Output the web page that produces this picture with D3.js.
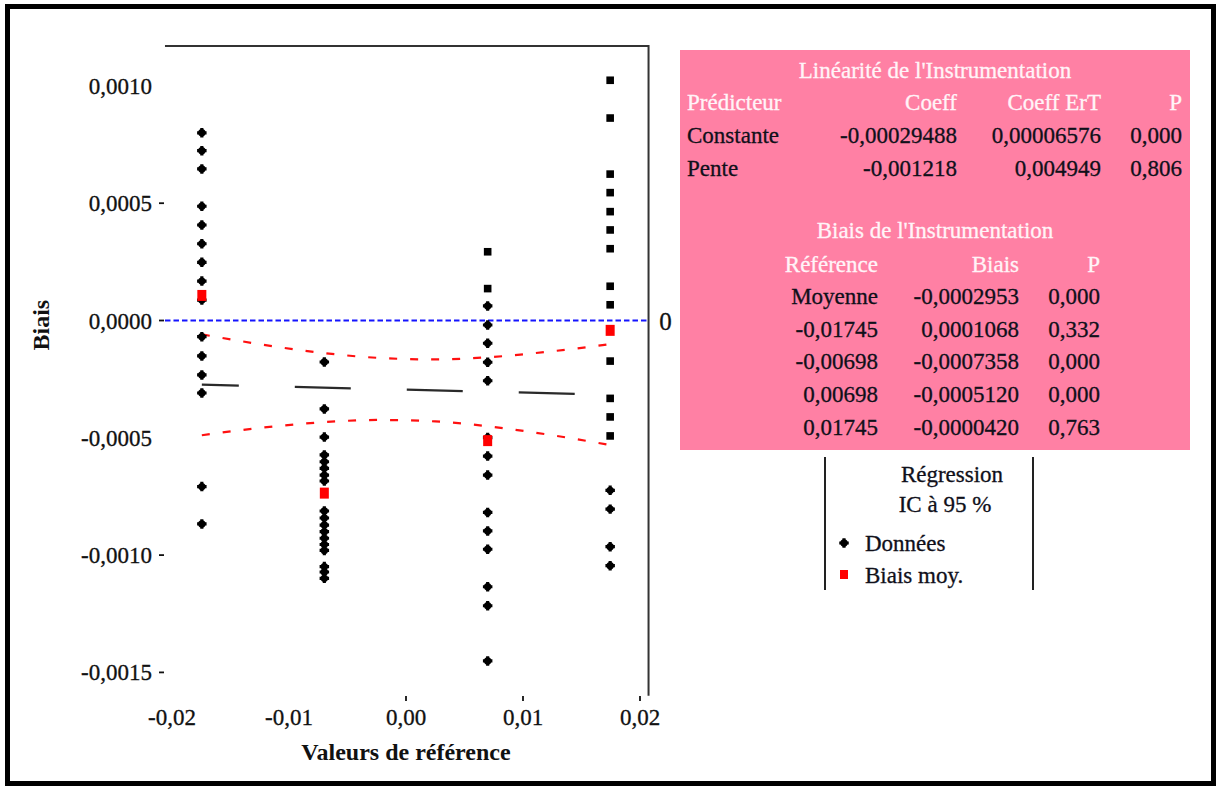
<!DOCTYPE html>
<html>
<head>
<meta charset="utf-8">
<script src="https://cdn.jsdelivr.net/npm/d3@7"></script>
<style>
  html, body { margin: 0; padding: 0; background: #ffffff; }
  svg { display: block; }
  text { font-family: "Liberation Serif", "Times New Roman", serif; }
</style>
</head>
<body>
<svg id="chart" width="1220" height="787"></svg>
<script>
// ---------------- DATA ----------------
const refValues = [-0.01745, -0.00698, 0.00698, 0.01745];

// individual biases (diamond markers)
const biasRef1 = [0.000800, 0.000724, 0.000646, 0.000487, 0.000407, 0.000327, 0.000248, 0.000168, 0.000087,
                  -0.000069, -0.000151, -0.000232, -0.000309, -0.000708, -0.000867];
const biasRef2 = [-0.000177, -0.000377, -0.000497, -0.000573, -0.000602, -0.000630, -0.000659, -0.000684,
                  -0.000812, -0.000842, -0.000872, -0.000900, -0.000928, -0.000955, -0.000980,
                  -0.001049, -0.001072, -0.001099];
const biasRef3 = [0.000062, -0.000019, -0.000097, -0.000178, -0.000257, -0.000499, -0.000578, -0.000659,
                  -0.000818, -0.000897, -0.000975, -0.001135, -0.001216, -0.001451];
const biasRef4 = [-0.000724, -0.000804, -0.000964, -0.001045];
// individual biases drawn with square markers
const biasRef3Sq = [0.000293, 0.000136];
const biasRef4Sq = [0.001024, 0.000863, 0.000624, 0.000545, 0.000464, 0.000386, 0.000306, 0.000146, 0.000067,
                    -0.000173, -0.000332, -0.000411, -0.000492];

const meanBias = [0.0001068, -0.0007358, -0.0005120, -0.0000420];

// regression (from table)
const regConst = -0.00029488;
const regSlope = -0.001218;

// 95% CI band
const ciX     = [-0.01745, -0.0125, -0.0075, -0.0025, 0.0025, 0.0075, 0.0125, 0.01745];
const ciUpper = [-0.000059, -0.000101, -0.000136, -0.000159, -0.000166, -0.000155, -0.000131, -0.000101];
const ciLower = [-0.000489, -0.000458, -0.000435, -0.000424, -0.000430, -0.000454, -0.000489, -0.000531];

const xTickValues = [-0.02, -0.01, 0, 0.01, 0.02];
const xTickLabels = ["-0,02", "-0,01", "0,00", "0,01", "0,02"];
const xTickMarked = [false, false, true, true, true];
const yTickValues = [0.001, 0.0005, 0, -0.0005, -0.001, -0.0015];
const yTickLabels = ["0,0010", "0,0005", "0,0000", "-0,0005", "-0,0010", "-0,0015"];
const yTickMarked = [false, true, true, false, true, true];

const xTitle = "Valeurs de référence";
const yTitle = "Biais";

const linTitle = "Linéarité de l'Instrumentation";
const linHeaders = ["Prédicteur", "Coeff", "Coeff ErT", "P"];
const linRows = [
  ["Constante", "-0,00029488", "0,00006576", "0,000"],
  ["Pente", "-0,001218", "0,004949", "0,806"]
];
const biasTitle = "Biais de l'Instrumentation";
const biasHeaders = ["Référence", "Biais", "P"];
const biasRows = [
  ["Moyenne", "-0,0002953", "0,000"],
  ["-0,01745", "0,0001068", "0,332"],
  ["-0,00698", "-0,0007358", "0,000"],
  ["0,00698", "-0,0005120", "0,000"],
  ["0,01745", "-0,0000420", "0,763"]
];
const legendTitles = ["Régression", "IC à 95 %"];
const legendItems = ["Données", "Biais moy."];

// ---------------- CHART ----------------
const svg = d3.select("#chart");
const FS = 23;

svg.append("rect").attr("x", 0).attr("y", 0).attr("width", 1220).attr("height", 787).attr("fill", "#fff");

const x = d3.scaleLinear().domain([-0.02, 0.02]).range([172, 640]);
const y = d3.scaleLinear().domain([-0.0015, 0.001]).range([672.4, 85.9]);

const xLeft = x(-0.0206), xRight = x(0.02073);
const yTop = y(0.00117), yBottom = y(-0.0016);

// frame (top and right sides only)
svg.append("path")
  .attr("d", `M${xLeft},${yTop}H${xRight}V${yBottom}`)
  .attr("fill", "none").attr("stroke", "#333").attr("stroke-width", 2);

// y ticks
yTickValues.forEach((v, i) => {
  svg.append("text").attr("x", 152).attr("y", y(v) + 8)
    .attr("text-anchor", "end").attr("font-size", FS).attr("fill", "#111")
    .attr("stroke", "#111").attr("stroke-width", 0.3)
    .text(yTickLabels[i]);
  if (yTickMarked[i]) {
    svg.append("line").attr("x1", 159).attr("x2", 164).attr("y1", y(v)).attr("y2", y(v))
      .attr("stroke", "#111").attr("stroke-width", 1.8);
  }
});

// x ticks
xTickValues.forEach((v, i) => {
  svg.append("text").attr("x", x(v)).attr("y", 725)
    .attr("text-anchor", "middle").attr("font-size", FS).attr("fill", "#111")
    .attr("stroke", "#111").attr("stroke-width", 0.3)
    .text(xTickLabels[i]);
  if (xTickMarked[i]) {
    svg.append("line").attr("x1", x(v)).attr("x2", x(v)).attr("y1", 696).attr("y2", 701)
      .attr("stroke", "#111").attr("stroke-width", 1.8);
  }
});

// axis titles
svg.append("text").attr("x", x(0)).attr("y", 760).attr("text-anchor", "middle")
  .attr("font-size", 24).attr("font-weight", "bold").attr("fill", "#111").text(xTitle);
svg.append("text").attr("transform", `translate(49,${y(-0.00002)}) rotate(-90)`)
  .attr("text-anchor", "middle").attr("font-size", 24).attr("font-weight", "bold")
  .attr("fill", "#111").text(yTitle);

// zero reference line
svg.append("line").attr("x1", xLeft).attr("x2", xRight).attr("y1", y(0)).attr("y2", y(0))
  .attr("stroke", "#1414ff").attr("stroke-width", 2).attr("stroke-dasharray", "5.5,3");
svg.append("text").attr("x", xRight + 17).attr("y", y(0) + 9).attr("text-anchor", "middle")
  .attr("font-size", 25).attr("fill", "#111").attr("stroke", "#111").attr("stroke-width", 0.3).text("0");

// CI lines
const ciLine = d3.line().x(d => x(d[0])).y(d => y(d[1])).curve(d3.curveMonotoneX);
[ciUpper, ciLower].forEach(arr => {
  svg.append("path").attr("d", ciLine(ciX.map((v, i) => [v, arr[i]])))
    .attr("fill", "none").attr("stroke", "#ff1010").attr("stroke-width", 2.2)
    .attr("stroke-dasharray", "8,13");
});

// regression line
const rx0 = refValues[0], rx1 = refValues[refValues.length - 1];
svg.append("line")
  .attr("x1", x(rx0)).attr("y1", y(regConst + regSlope * rx0))
  .attr("x2", x(rx1)).attr("y2", y(regConst + regSlope * rx1))
  .attr("stroke", "#2a2a2a").attr("stroke-width", 2.2)
  .attr("stroke-dasharray", "56,56").attr("stroke-dashoffset", 19);

// markers
function blob(g, cx, cy, color) {
  g.append("path").attr("d", d3.symbol(d3.symbolCross, 50)())
    .attr("transform", `translate(${cx},${cy})`).attr("fill", color);
  g.append("circle").attr("cx", cx).attr("cy", cy).attr("r", 3.7).attr("fill", color);
}
const pts = svg.append("g");
[biasRef1, biasRef2, biasRef3, biasRef4].forEach((arr, k) => {
  arr.forEach(v => blob(pts, x(refValues[k]), y(v), "#000"));
});
[[biasRef3Sq, 2], [biasRef4Sq, 3]].forEach(([arr, k]) => {
  arr.forEach(v => {
    pts.append("rect").attr("x", x(refValues[k]) - 3.8).attr("y", y(v) - 3.8)
      .attr("width", 7.6).attr("height", 7.6).attr("fill", "#000");
  });
});
meanBias.forEach((v, k) => {
  pts.append("rect").attr("x", x(refValues[k]) - 4.5).attr("y", y(v) - 5.5)
    .attr("width", 9).attr("height", 11).attr("fill", "#ff0000");
});

// ---------------- TABLE ----------------
const tb = { x: 680, y: 50, w: 510, h: 400 };
svg.append("rect").attr("x", tb.x).attr("y", tb.y).attr("width", tb.w).attr("height", tb.h)
  .attr("fill", "#ff80a4");
const white = "#fff4f8", dark = "#10101a";
const cx = tb.x + tb.w / 2;
function t(xp, yp, s, anchor, color) {
  svg.append("text").attr("x", xp).attr("y", yp).attr("text-anchor", anchor)
    .attr("font-size", FS).attr("fill", color)
    .attr("stroke", color).attr("stroke-width", 0.3).text(s);
}
t(cx, 78, linTitle, "middle", white);
const linCols = [[687, "start"], [957, "end"], [1101, "end"], [1182, "end"]];
linHeaders.forEach((h, i) => t(linCols[i][0], 110, h, linCols[i][1], white));
linRows.forEach((r, j) => r.forEach((s, i) => t(linCols[i][0], 143 + j * 33, s, linCols[i][1], dark)));

t(cx, 238, biasTitle, "middle", white);
const biasCols = [[878, "end"], [1019, "end"], [1100, "end"]];
biasHeaders.forEach((h, i) => t(biasCols[i][0], 272, h, biasCols[i][1], white));
biasRows.forEach((r, j) => r.forEach((s, i) => t(biasCols[i][0], 304 + j * 32.7, s, biasCols[i][1], dark)));

// ---------------- LEGEND ----------------
svg.append("line").attr("x1", 825).attr("x2", 825).attr("y1", 457).attr("y2", 590)
  .attr("stroke", "#222").attr("stroke-width", 2);
svg.append("line").attr("x1", 1033).attr("x2", 1033).attr("y1", 457).attr("y2", 590)
  .attr("stroke", "#222").attr("stroke-width", 2);
t(952, 482, legendTitles[0], "middle", dark);
t(945, 512, legendTitles[1], "middle", dark);
blob(svg, 844, 543, "#000");
svg.append("rect").attr("x", 840).attr("y", 570).attr("width", 8).attr("height", 9).attr("fill", "#ff0000");
t(865, 551, legendItems[0], "start", dark);
t(865, 583, legendItems[1], "start", dark);

// outer frame
svg.append("rect").attr("x", 7.5).attr("y", 6.5).attr("width", 1206).attr("height", 777)
  .attr("fill", "none").attr("stroke", "#000").attr("stroke-width", 5);
</script>
</body>
</html>
